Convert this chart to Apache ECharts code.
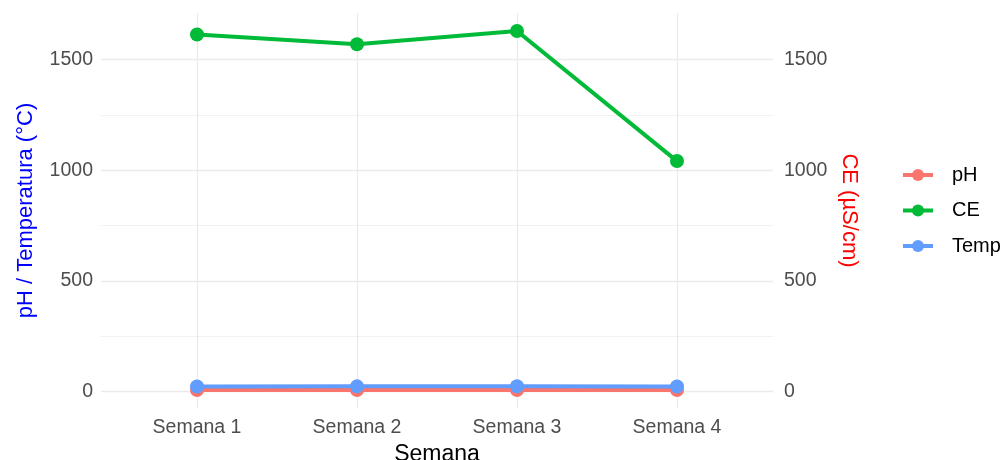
<!DOCTYPE html>
<html>
<head>
<meta charset="utf-8">
<script src="https://cdn.jsdelivr.net/npm/echarts@6/dist/echarts.min.js"></script>
<style>
  html, body { margin: 0; padding: 0; background: #fff; }
  #chart { width: 1003px; height: 460px; }
</style>
</head>
<body>
<div id="chart"></div>
<script>
// datos por semana
var semanas = ['Semana 1', 'Semana 2', 'Semana 3', 'Semana 4'];
var ph = [7.5, 7.6, 7.4, 7.3];
var ce = [1614, 1570, 1630, 1042];
var temp = [23.5, 24, 24.5, 23.5];
var ticksMayores = [0, 500, 1000, 1500];
var ticksMenores = [250, 750, 1250];

(function () {
    var todos = ph.concat(ce, temp);
    var lo = Math.min.apply(null, todos);
    var hi = Math.max.apply(null, todos);
    var pad = (hi - lo) * 0.05;

    function pares(arr) {
        return arr.map(function (v, i) { return [i + 1, v]; });
    }
    var xPos = semanas.map(function (s, i) { return i + 1; });

    var fuente = 'Liberation Sans, Arial, sans-serif';
    var gris = '#4D4D4D';

    function serie(nombre, datos, color) {
        return {
            name: nombre,
            type: 'line',
            data: pares(datos),
            symbol: 'circle',
            symbolSize: 14,
            lineStyle: {width: 4, color: color},
            itemStyle: {color: color},
            emphasis: {disabled: true},
            animation: false
        };
    }

    var myChart = echarts.init(document.getElementById('chart'));
    var option = {
        backgroundColor: '#fff',
        textStyle: {fontFamily: fuente},
        grid: {left: 101, right: 230, top: 13, bottom: 52, containLabel: false, outerBoundsMode: 'none'},
        legend: {
            orient: 'vertical',
            left: 901,
            top: 165,
            padding: 0,
            itemWidth: 30,
            itemHeight: 15,
            itemGap: 15.5,
            lineStyle: {width: 4},
            textStyle: {fontSize: 20, color: '#000', fontFamily: fuente, padding: [0, 0, 0, 14]},
            data: ['pH', 'CE', 'Temp']
        },
        xAxis: {
            type: 'value',
            min: 0.4,
            max: 4.6,
            name: 'Semana',
            nameLocation: 'middle',
            nameGap: 32,
            nameTextStyle: {fontSize: 23, color: '#000', fontFamily: fuente},
            axisLine: {show: false},
            axisTick: {show: false, customValues: xPos},
            axisLabel: {
                customValues: xPos,
                fontSize: 19.5,
                color: gris,
                margin: 10,
                formatter: function (v) { return semanas[Math.round(v) - 1]; }
            },
            splitLine: {show: true, lineStyle: {color: '#EBEBEB', width: 1.3}}
        },
        yAxis: [
            {
                type: 'value',
                position: 'left',
                min: lo - pad,
                max: hi + pad,
                name: 'pH / Temperatura (°C)',
                nameLocation: 'middle',
                nameRotate: 90,
                nameGap: 64,
                nameTextStyle: {fontSize: 22, color: '#0000FF', fontFamily: fuente},
                axisLine: {show: false},
                axisTick: {show: false, customValues: ticksMayores},
                axisLabel: {customValues: ticksMayores, fontSize: 19.5, color: gris, margin: 8,
                    formatter: function (v) { return String(v); }},
                splitLine: {show: true, lineStyle: {color: '#EBEBEB', width: 1.3}}
            },
            {
                type: 'value',
                position: 'right',
                min: lo - pad,
                max: hi + pad,
                name: 'CE (µS/cm)',
                nameLocation: 'middle',
                nameRotate: -90,
                nameGap: 58,
                nameTextStyle: {fontSize: 22, color: '#FF0000', fontFamily: fuente},
                axisLine: {show: false},
                axisTick: {show: false, customValues: ticksMenores},
                axisLabel: {customValues: ticksMayores, fontSize: 19.5, color: gris, margin: 11,
                    formatter: function (v) { return String(v); }},
                splitLine: {show: true, lineStyle: {color: '#F2F2F2', width: 1}}
            }
        ],
        series: [
            serie('pH', ph, '#F8766D'),
            serie('CE', ce, '#00BA38'),
            serie('Temp', temp, '#619CFF')
        ]
    };

    myChart.setOption(option);
})();
</script>
</body>
</html>
